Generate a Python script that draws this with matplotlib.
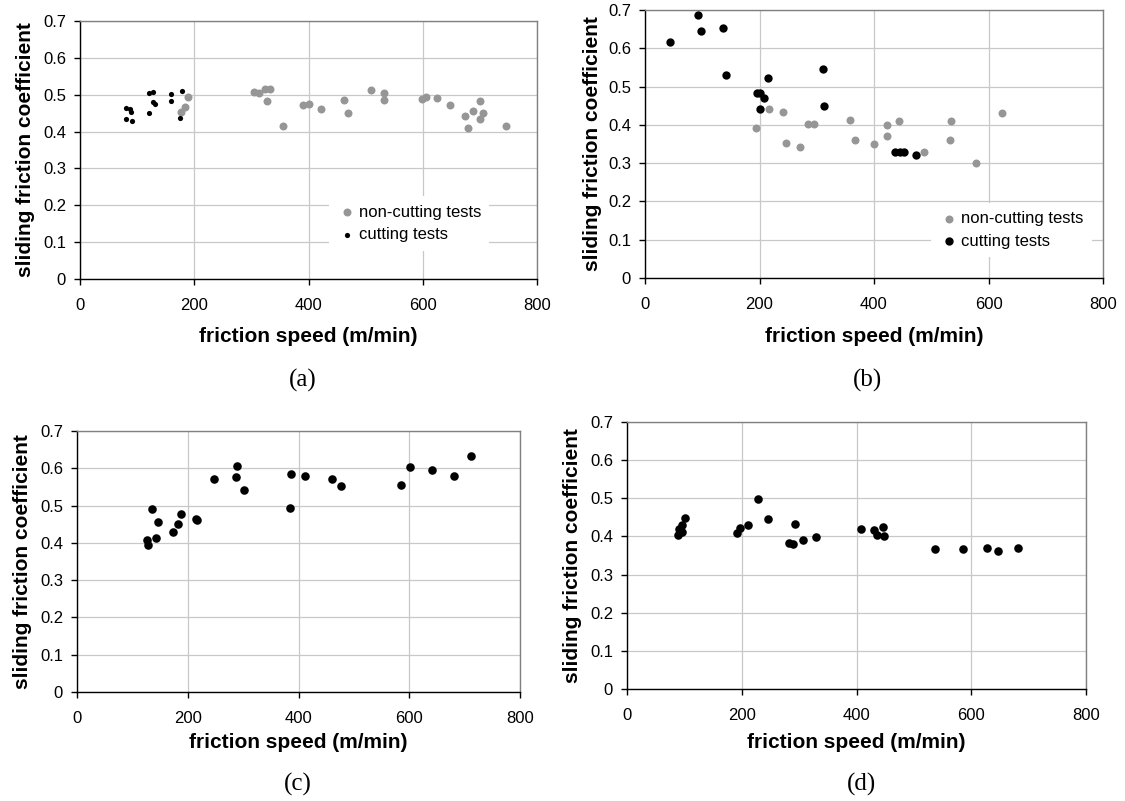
import matplotlib
matplotlib.use("Agg")
import matplotlib.pyplot as plt
from matplotlib.ticker import MultipleLocator, FuncFormatter

plt.rcParams['font.family'] = ['Liberation Sans', 'DejaVu Sans']

# ---------------- data ----------------
# (a)
a_noncut_x = [176, 183, 189.5, 305, 314, 324, 333, 328, 354.5, 391, 400, 422, 462, 470,
              510, 531.6, 533, 598, 605, 625, 647.5, 674, 679, 687.5, 700, 705, 700, 745.5]
a_noncut_y = [0.453, 0.468, 0.495, 0.507, 0.506, 0.516, 0.516, 0.482, 0.415, 0.473, 0.476, 0.460, 0.486, 0.451,
              0.514, 0.505, 0.486, 0.489, 0.493, 0.490, 0.473, 0.443, 0.410, 0.457, 0.484, 0.451, 0.435, 0.415]
a_cut_x = [80.5, 87.5, 89, 80.5, 91, 120, 121, 128, 127, 132, 159, 160, 175, 178]
a_cut_y = [0.464, 0.460, 0.453, 0.434, 0.430, 0.451, 0.505, 0.508, 0.479, 0.474, 0.483, 0.502, 0.436, 0.509]

# (b)
b_noncut_x = [193.7, 217, 241.5, 246.7, 271.5, 285.5, 295.5, 358, 366, 399.4, 422, 422, 443,
              486.5, 534.5, 532, 578, 623]
b_noncut_y = [0.393, 0.442, 0.433, 0.352, 0.343, 0.402, 0.402, 0.413, 0.360, 0.350, 0.400, 0.371, 0.411,
              0.330, 0.411, 0.360, 0.301, 0.431]
b_cut_x = [43, 93, 98.6, 136.6, 142, 196, 200.6, 208.6, 201.7, 215, 310.5, 313, 437, 445, 452.6, 472.5]
b_cut_y = [0.616, 0.687, 0.644, 0.652, 0.530, 0.484, 0.484, 0.470, 0.441, 0.523, 0.545, 0.450,
           0.330, 0.330, 0.330, 0.321]

# (c)
c_x = [126.6, 128.5, 135, 147, 142.7, 172.9, 183, 187, 214, 216, 246.8, 288.6, 286.6, 300.8,
       385, 387, 411, 461, 477, 586, 601, 641, 680.5, 711]
c_y = [0.408, 0.395, 0.490, 0.455, 0.413, 0.428, 0.451, 0.478, 0.464, 0.460, 0.571, 0.605, 0.577, 0.541,
       0.494, 0.585, 0.580, 0.571, 0.552, 0.556, 0.603, 0.596, 0.580, 0.634]

# (d)
d_x = [89.2, 91.5, 95.5, 95, 101.8, 191, 196.7, 211, 227.5, 245.7, 282.2, 288.5, 293.5, 307.3, 329.3,
       407.9, 430.5, 435, 445.6, 448, 537.4, 585, 627.3, 646, 681.3]
d_y = [0.403, 0.419, 0.430, 0.411, 0.449, 0.410, 0.423, 0.431, 0.498, 0.447, 0.384, 0.380, 0.432, 0.390, 0.398,
       0.419, 0.416, 0.403, 0.426, 0.401, 0.366, 0.366, 0.369, 0.362, 0.369]

x_ticks = [0, 200, 400, 600, 800]
y_label = "sliding friction coefficient"
x_label = "friction speed (m/min)"
legend_labels = ["non-cutting tests", "cutting tests"]
panel_labels = ["(a)", "(b)", "(c)", "(d)"]

GRAY = '#969696'
W, H = 1125, 801

fig = plt.figure(figsize=(W / 100, H / 100), dpi=100)


def make_ax(x0, x1, ytop, ybot, xlab_off, ylab_off):
    ax = fig.add_axes([x0 / W, (H - ybot) / H, (x1 - x0) / W, (ybot - ytop) / H])
    ax.set_xlim(0, 800)
    ax.set_ylim(0, 0.7)
    ax.set_xticks(x_ticks)
    ax.yaxis.set_major_locator(MultipleLocator(0.1))
    ax.yaxis.set_major_formatter(FuncFormatter(lambda v, p: "0" if abs(v) < 1e-9 else f"{v:.1f}"))
    ax.grid(True, color='#c8c8c8', linewidth=0.9)
    ax.set_axisbelow(True)
    for s in ['top', 'right']:
        ax.spines[s].set_color('#808080')
        ax.spines[s].set_linewidth(1.0)
    for s in ['left', 'bottom']:
        ax.spines[s].set_color('black')
        ax.spines[s].set_linewidth(1.0)
    ax.tick_params(axis='both', direction='out', length=4, width=1.0, labelsize=12, colors='black')
    ax.tick_params(axis='x', pad=10)
    ax.tick_params(axis='y', pad=6)
    ax.tick_params(top=False, right=False)
    ax.set_xlabel(x_label, fontsize=15, fontweight='bold')
    ax.xaxis.label.set_verticalalignment('center')
    ax.xaxis.set_label_coords(0.5, -xlab_off / (ybot - ytop))
    ax.set_ylabel(y_label, fontsize=15, fontweight='bold')
    ax.yaxis.label.set_verticalalignment('center')
    ax.yaxis.set_label_coords(-ylab_off / (x1 - x0), 0.5)
    return ax


def add_legend(ax, cx, cy):
    leg = ax.legend(loc='center', bbox_to_anchor=(cx, cy), frameon=True, fancybox=False,
                    facecolor='white', edgecolor='none', framealpha=1, fontsize=12,
                    handletextpad=0.1, labelspacing=0.45, borderpad=0.5, handlelength=1.2,
                    scatterpoints=1)
    return leg


# (a)
axa = make_ax(80, 537, 21, 279, 58, 54)
axa.scatter(a_noncut_x, a_noncut_y, s=33, color=GRAY, linewidths=0, label=legend_labels[0], zorder=3)
axa.scatter(a_cut_x, a_cut_y, s=14, color='black', linewidths=0, label=legend_labels[1], zorder=3)
add_legend(axa, 0.72, 0.215)

# (b)
axb = make_ax(645, 1103, 10, 278, 59, 53)
axb.scatter(b_noncut_x, b_noncut_y, s=33, color=GRAY, linewidths=0, label=legend_labels[0], zorder=3)
axb.scatter(b_cut_x, b_cut_y, s=36, color='black', linewidths=0, label=legend_labels[1], zorder=3)
add_legend(axb, 0.80, 0.18)

# (c)
axc = make_ax(77, 520, 431, 692, 50, 54)
axc.scatter(c_x, c_y, s=38, color='black', linewidths=0, zorder=3)

# (d)
axd = make_ax(627, 1086, 422, 689, 53, 54)
axd.scatter(d_x, d_y, s=38, color='black', linewidths=0, zorder=3)

for lab, (px, py) in zip(panel_labels, [(303, 380), (868, 380), (298, 784), (862, 784)]):
    fig.text(px / W, 1 - py / H, lab, ha='center', va='center', fontsize=18,
             family=['Liberation Serif', 'DejaVu Serif'])

fig.savefig('out.png', dpi=100)
